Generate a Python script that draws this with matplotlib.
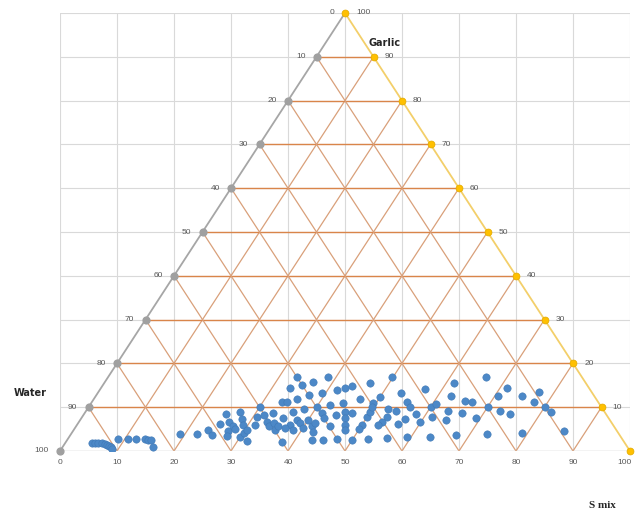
import numpy as np
import matplotlib
matplotlib.use('Agg')
import matplotlib.pyplot as plt
import matplotlib.transforms as mtransforms

# composition of each sample (percent); water = 100 - smix - garlic
smix = [4.6, 5.2, 5.8, 6.4, 7.1, 7.6, 8.1, 8.6, 8.9, 8.9, 10.5, 12.0, 13.5, 14.1, 14.7, 15.9, 19.1,
        22.0, 23.6, 24.8, 25.0, 24.8, 26.3, 27.1, 27.5, 27.6, 28.2, 27.1, 28.4, 29.2, 29.9, 30.3, 31.6,
        30.4, 31.2, 30.6, 30.0, 31.7, 32.9, 33.8, 33.1, 34.4, 35.3, 35.4, 33.3, 35.4, 37.9,
        34.1, 33.1, 34.9, 33.2, 35.6, 37.2, 36.5, 39.3, 38.7, 41.6, 42.8, 43.9, 46.6, 46.7, 44.2, 42.1,
        40.0, 36.4, 38.0, 41.7, 42.5, 44.6, 44.4, 45.5, 46.3, 47.0, 47.6, 47.0, 37.4, 38.0, 39.0, 40.1,
        40.0, 41.4, 42.2, 36.9, 38.5, 43.0, 44.9, 47.2, 49.9, 52.7, 50.0, 49.9, 49.9, 49.4, 50.0,
        49.8, 49.9, 53.2, 57.0, 61.4, 62.3, 65.3, 66.6, 55.4, 56.4, 52.8, 54.4, 60.0, 60.6, 58.2, 63.5,
        66.3, 53.5, 57.0, 56.2, 59.8, 61.5, 64.1, 53.1, 52.8, 55.9, 59.4, 63.3, 67.6,
        66.4, 71.3, 70.6, 74.8, 77.3, 77.6, 70.0, 72.6, 74.7, 69.2, 80.0, 81.7, 72.9, 79.0, 86.2,
        49.8, 41.6]
garlic = [1.9, 1.9, 1.9, 1.8, 1.7, 1.4, 1.1, 0.8, 0.4, 2.7, 2.7, 2.7, 2.7, 2.6, 2.5, 0.8, 3.8,
          3.9, 4.8, 3.7, 6.2, 8.5, 6.7, 4.6, 3.5, 5.6, 5.0, 9.0, 7.2, 5.9, 3.3, 4.0, 2.3,
          4.8, 5.9, 7.8, 10.0, 8.2, 6.7, 5.6, 8.6, 6.3, 4.8, 5.8, 11.3, 7.5, 2.1,
          11.3, 16.8, 15.1, 14.3, 11.8, 12.8, 15.8, 13.2, 16.8, 13.9, 14.3, 14.8, 15.6, 11.8, 11.0, 10.5,
          10.0, 9.0, 9.5, 8.7, 7.5, 5.6, 8.2, 9.0, 7.5, 5.9, 4.8, 8.6, 5.9, 7.1, 6.3, 5.2,
          7.1, 5.6, 4.4, 5.2, 4.8, 2.4, 2.5, 2.7, 2.5, 2.7, 5.9, 7.8, 9.0, 10.9, 5.0,
          16.8, 12.4, 13.3, 14.1, 15.5, 12.6, 11.5, 11.3, 11.1, 10.0, 9.5, 9.1, 10.0, 10.7, 8.5, 9.1,
          8.6, 7.7, 7.2, 6.2, 6.7, 7.7, 7.1, 6.7, 5.9, 2.9, 3.1, 3.3, 3.7,
          16.8, 14.3, 12.6, 12.6, 13.5, 11.1, 10.0, 9.1, 8.5, 7.6, 10.0, 9.0, 3.9, 4.2, 4.6,
          10.0, 6.3]

levels = [0, 10, 20, 30, 40, 50, 60, 70, 80, 90, 100]
smix = np.array(smix)
garlic = np.array(garlic)


def to_xy(s, g):
    return s + g / 2.0, g


fig = plt.figure(figsize=(6.35, 5.14), dpi=100)
ax = fig.add_axes([60/635, 63/514, 570/635, 438/514])
ax.set_xlim(0, 100)
ax.set_ylim(0, 100)
ax.set_xticks(levels)
ax.set_yticks(levels)
ax.set_yticklabels([])
ax.tick_params(length=0, labelsize=6, labelcolor='#595959', pad=6)
for lab in ax.get_xticklabels():
    lab.set_family('Liberation Sans')
# keep the last tick label inside the figure
last = ax.get_xticklabels()[-1]
last.set_transform(last.get_transform() +
                   mtransforms.ScaledTranslation(-4/72, 0, fig.dpi_scale_trans))
ax.grid(True, color='#d9d9d9', linewidth=0.8)
for sp in ax.spines.values():
    sp.set_visible(False)
ax.set_axisbelow(True)

# orange ternary grid
for k in levels[1:-1]:
    # garlic constant
    ax.plot([k / 2.0, 100 - k / 2.0], [k, k], color='#d9854a', lw=1.0, zorder=2)
    # smix constant
    ax.plot([k, k + (100 - k) / 2.0], [0, 100 - k], color='#d9a07a', lw=0.9, zorder=2)
    # water constant
    ax.plot([k, k / 2.0], [0, k], color='#d9a07a', lw=0.9, zorder=2)

# triangle edges
ax.plot([0, 50], [0, 100], color='#a6a6a6', lw=1.3, zorder=3)
ax.plot([50, 100], [100, 0], color='#f3cf6a', lw=1.3, zorder=3)
ax.plot([0, 100], [0, 0], color='#d0d0d0', lw=1.0, zorder=3)

# edge markers and labels
lev = np.array(levels, dtype=float)
ax.scatter(lev[:-1] / 2.0, lev[:-1], s=24, color='#a0a0a0', zorder=4, clip_on=False)
ax.scatter(100 - lev / 2.0, lev, s=24, color='#ffc000', edgecolor='#e6ad00', lw=0.6,
           zorder=5, clip_on=False)
for g in levels:
    ax.annotate(str(100 - g), (g / 2.0, g), xytext=(-8, 0), textcoords='offset points',
                ha='right', va='center', fontsize=6, color='#595959', family='Liberation Sans')
    if g > 0:
        ax.annotate(str(g), (100 - g / 2.0, g), xytext=(8, 0), textcoords='offset points',
                    ha='left', va='center', fontsize=6, color='#595959', family='Liberation Sans')

x, y = to_xy(smix, garlic)
ax.scatter(x, y, s=28, color='#4c88c7', edgecolor='#4079b6', lw=0.4, zorder=6)

fig.text(385/635, 1 - 43/514, 'Garlic', ha='center', va='center', fontsize=7,
         fontweight='bold', color='#262626')
fig.text(30/635, 1 - 393/514, 'Water', ha='center', va='center', fontsize=7,
         fontweight='bold', color='#262626')
fig.text(602/635, 1 - 505/514, 'S mix', ha='center', va='center', fontsize=8,
         fontweight='bold', family='Liberation Serif', color='#262626')

fig.savefig('out.png', dpi=100)
